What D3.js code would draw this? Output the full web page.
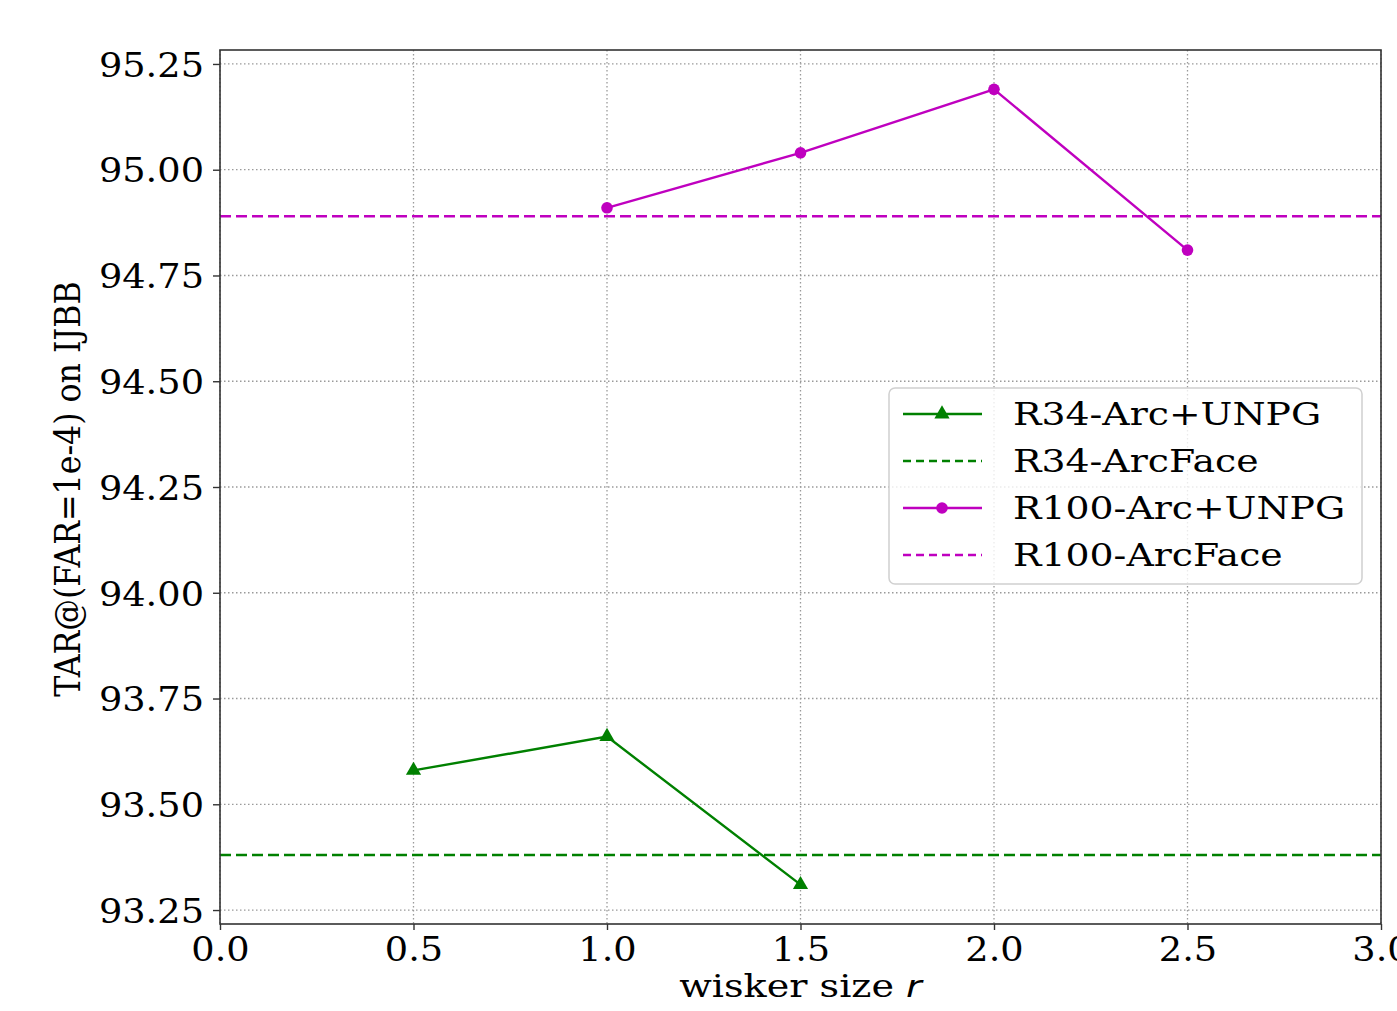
<!DOCTYPE html>
<html><head><meta charset="utf-8">
<script src="https://cdn.jsdelivr.net/npm/d3@7"></script>
<style>
html,body{margin:0;padding:0;background:#fff;}
svg{display:block;}
text{font-family:"DejaVu Serif",serif;fill:#000;}
</style></head>
<body>
<script>
const xTicks = [0.0, 0.5, 1.0, 1.5, 2.0, 2.5, 3.0];
const yTicks = [93.25, 93.50, 93.75, 94.00, 94.25, 94.50, 94.75, 95.00, 95.25];
const r34X = [0.5, 1.0, 1.5];
const r34Y = [93.58, 93.66, 93.31];
const r100X = [1.0, 1.5, 2.0, 2.5];
const r100Y = [94.91, 95.04, 95.19, 94.81];
const r34Base = 93.38;
const r100Base = 94.89;
const seriesNames = ["R34-Arc+UNPG", "R34-ArcFace", "R100-Arc+UNPG", "R100-ArcFace"];

const W = 1397, H = 1011;
const m = {l: 220, r: 1381, t: 50, b: 924};
const green = "#008000", mag = "#bf00bf";

const svg = d3.select("body").append("svg").attr("width", W).attr("height", H);
const x = d3.scaleLinear().domain([0, 3]).range([m.l, m.r]);
const y = d3.scaleLinear().domain([93.217, 95.283]).range([m.b, m.t]);

const SX = 1.08;
// grid
const grid = svg.append("g");
xTicks.forEach(t => grid.append("line").attr("x1", x(t)).attr("x2", x(t)).attr("y1", m.t).attr("y2", m.b)
  .attr("stroke", "#9a9a9a").attr("stroke-width", 1.3).attr("stroke-dasharray", "1.5,2.5"));
yTicks.forEach(t => grid.append("line").attr("x1", m.l).attr("x2", m.r).attr("y1", y(t)).attr("y2", y(t))
  .attr("stroke", "#9a9a9a").attr("stroke-width", 1.3).attr("stroke-dasharray", "1.5,2.5"));

// baselines
svg.append("line").attr("x1", m.l).attr("x2", m.r).attr("y1", y(r100Base)).attr("y2", y(r100Base))
  .attr("stroke", mag).attr("stroke-width", 2.4).attr("stroke-dasharray", "11,5");
svg.append("line").attr("x1", m.l).attr("x2", m.r).attr("y1", y(r34Base)).attr("y2", y(r34Base))
  .attr("stroke", green).attr("stroke-width", 2.4).attr("stroke-dasharray", "11,5");

const line = d3.line().x(d => x(d[0])).y(d => y(d[1]));
const r34 = r34X.map((v, i) => [v, r34Y[i]]);
const r100 = r100X.map((v, i) => [v, r100Y[i]]);
svg.append("path").attr("d", line(r34)).attr("fill", "none").attr("stroke", green).attr("stroke-width", 2.4);
svg.append("path").attr("d", line(r100)).attr("fill", "none").attr("stroke", mag).attr("stroke-width", 2.4);
const tri = d3.symbol().type(d3.symbolTriangle).size(100);
svg.selectAll(".tri").data(r34).join("path").attr("d", tri)
  .attr("transform", d => `translate(${x(d[0])},${y(d[1])})`).attr("fill", green);
svg.selectAll(".dot").data(r100).join("circle").attr("cx", d => x(d[0])).attr("cy", d => y(d[1]))
  .attr("r", 5.8).attr("fill", mag);

// frame
svg.append("rect").attr("x", m.l).attr("y", m.t).attr("width", m.r - m.l).attr("height", m.b - m.t)
  .attr("fill", "none").attr("stroke", "#333").attr("stroke-width", 1.6);

// axes
const xa = d3.axisBottom(x).tickValues(xTicks).tickFormat(d3.format(".1f")).tickSize(6).tickPadding(6);
const ya = d3.axisLeft(y).tickValues(yTicks).tickFormat(d3.format(".2f")).tickSize(7).tickPadding(8);
const gx = svg.append("g").attr("transform", `translate(0,${m.b})`).call(xa);
const gy = svg.append("g").attr("transform", `translate(${m.l},0)`).call(ya);
[gx, gy].forEach(g => {
  g.select(".domain").remove();
  g.selectAll(".tick line").attr("stroke", "#333").attr("stroke-width", 1.4);
  g.selectAll(".tick text").attr("font-family", "DejaVu Serif").attr("font-size", 34).attr("fill", "#000");
});
gx.selectAll(".tick text").attr("y", 37).attr("dy", 0).attr("x", 0).attr("transform", `scale(${SX},1)`);
gy.selectAll(".tick text").attr("dy", "0.36em").attr("x", -16 / SX).attr("transform", `scale(${SX},1)`);

// axis labels
const xl = svg.append("text").attr("transform", `translate(${(m.l + m.r) / 2},997) scale(1.23,1)`)
  .attr("text-anchor", "middle").attr("font-size", 31);
xl.append("tspan").text("wisker size ");
xl.append("tspan").text("r").attr("font-family", "DejaVu Sans").attr("font-style", "italic");
svg.append("text").attr("transform", `translate(80,${(m.t + m.b) / 2 + 2}) rotate(-90) scale(1.02,1.15)`)
  .attr("text-anchor", "middle").attr("font-size", 31).text("TAR@(FAR=1e-4) on IJBB");

// legend
const lg = svg.append("g");
lg.append("rect").attr("x", 889).attr("y", 388).attr("width", 473).attr("height", 196).attr("rx", 6)
  .attr("fill", "#fff").attr("fill-opacity", 0.8).attr("stroke", "#d0d0d0").attr("stroke-width", 1.5);
const rowY = [414, 461, 508, 555];
const styles = [
  {c: green, dash: null, mk: "tri"},
  {c: green, dash: "8,5", mk: null},
  {c: mag, dash: null, mk: "dot"},
  {c: mag, dash: "8,5", mk: null}];
seriesNames.forEach((n, i) => {
  const yy = rowY[i], s = styles[i];
  lg.append("line").attr("x1", 903).attr("x2", 982).attr("y1", yy).attr("y2", yy)
    .attr("stroke", s.c).attr("stroke-width", 2.4).attr("stroke-dasharray", s.dash);
  if (s.mk === "tri") lg.append("path").attr("d", tri).attr("transform", `translate(942,${yy})`).attr("fill", s.c);
  if (s.mk === "dot") lg.append("circle").attr("cx", 942).attr("cy", yy).attr("r", 5.8).attr("fill", s.c);
  lg.append("text").attr("transform", `translate(1013,${yy + 11}) scale(1.22,1)`).attr("font-size", 31).text(n);
});
</script>
</body></html>
